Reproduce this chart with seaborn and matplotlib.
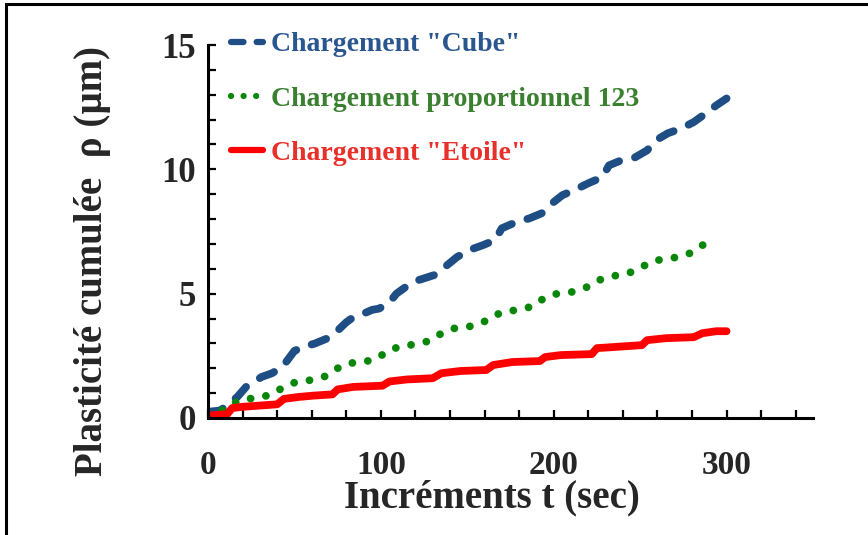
import matplotlib
matplotlib.use("Agg")
import matplotlib.pyplot as plt
from matplotlib.patches import Rectangle
from matplotlib.ticker import MultipleLocator, NullFormatter
import pandas as pd
import seaborn as sns

# Cumulated plasticity vs time increment for three loading paths
t_cube = [0, 7, 11, 17, 22, 31, 37, 43, 50, 55, 62, 69, 74, 80, 83, 90, 95, 99,
          105, 109, 116, 122, 131, 137, 144, 151, 159, 166, 170, 178, 186, 193,
          199, 205, 213, 220, 228, 232, 239, 247, 254, 259, 266, 274, 281, 288,
          294, 300]
rho_cube = [0.25, 0.3, 0.5, 0.85, 1.25, 1.65, 1.8, 2.05, 2.7, 2.85, 3.0, 3.2,
            3.45, 3.85, 4.0, 4.2, 4.35, 4.4, 4.65, 5.0, 5.35, 5.55, 5.75, 6.07,
            6.47, 6.75, 6.95, 7.15, 7.63, 7.87, 8.03, 8.23, 8.63, 8.96, 9.2,
            9.44, 9.68, 10.16, 10.36, 10.48, 10.76, 11.16, 11.45, 11.65, 11.9,
            12.25, 12.57, 12.85]

t_prop = [0, 8, 14, 20, 29, 37, 44, 51, 59, 67, 75, 81, 90, 98, 104, 112, 120,
          128, 135, 142, 150, 158, 165, 172, 180, 188, 195, 202, 210, 218, 226,
          233, 241, 248, 256, 263, 271, 279, 286, 294]
rho_prop = [0.05, 0.3, 0.56, 0.76, 0.8, 0.96, 1.25, 1.45, 1.52, 1.65, 2.0, 2.2,
            2.25, 2.4, 2.7, 2.9, 2.96, 3.1, 3.4, 3.6, 3.66, 3.8, 4.1, 4.3, 4.34,
            4.5, 4.85, 5.0, 5.06, 5.22, 5.54, 5.7, 5.77, 5.95, 6.27, 6.39, 6.46,
            6.63, 6.95, 7.07]

t_etoile = [0, 11, 14, 20, 40, 44, 53, 61, 72, 75, 84, 101, 105, 115, 130, 135,
            146, 161, 165, 176, 192, 195, 204, 222, 225, 234, 251, 254, 265, 281,
            286, 294, 300]
rho_etoile = [0.1, 0.15, 0.4, 0.45, 0.55, 0.77, 0.85, 0.9, 0.95, 1.15, 1.25,
              1.3, 1.47, 1.55, 1.6, 1.8, 1.89, 1.93, 2.13, 2.25, 2.29, 2.45,
              2.53, 2.57, 2.81, 2.85, 2.93, 3.13, 3.21, 3.25, 3.41, 3.49, 3.49]

labels = ['Chargement "Cube"', 'Chargement proportionnel 123',
          'Chargement "Etoile"']
line_colors = ["#1f4e85", "#0a870a", "#ff0000"]
text_colors = ["#2a5690", "#3a8030", "#e8302a"]
x_ticks = [0, 100, 200, 300]
y_ticks = [0, 5, 10, 15]

sns.set_theme(style="white")
plt.rcParams["font.family"] = ["Liberation Serif", "DejaVu Serif"]
plt.rcParams["font.weight"] = "bold"

fig = plt.figure(figsize=(8.68, 5.35), dpi=100)
ax = fig.add_axes([208 / 868, 1 - 418 / 535, 605 / 868, 373 / 535])

series = [(t_cube, rho_cube), (t_prop, rho_prop), (t_etoile, rho_etoile)]
styles = [(0, (2.0, 2.1)), (0, (0.01, 2.0)), "-"]
for (tx, ry), lab, col, ls in zip(series, labels, line_colors, styles):
    df = pd.DataFrame({"t": tx, "rho": ry})
    sns.lineplot(data=df, x="t", y="rho", ax=ax, color=col, linestyle=ls,
                 lw=5.6, label=lab, solid_capstyle="round",
                 dash_capstyle="round", solid_joinstyle="round")

ax.set_xlim(0, 350)
ax.set_ylim(0, 15)
ax.set_xticks(x_ticks)
ax.set_yticks(y_ticks)
ax.xaxis.set_minor_locator(MultipleLocator(20))
ax.yaxis.set_minor_locator(MultipleLocator(1))
ax.xaxis.set_minor_formatter(NullFormatter())
ax.yaxis.set_minor_formatter(NullFormatter())
ax.tick_params(axis="both", which="both", direction="in", length=6,
               width=1.6, color="black", bottom=True, left=True)
ax.tick_params(axis="x", which="major", pad=23, labelsize=24)
ax.tick_params(axis="y", which="major", pad=9, labelsize=25)
for lab in ax.get_xticklabels() + ax.get_yticklabels():
    lab.set_fontweight("bold")

sns.despine(ax=ax)
for side in ("left", "bottom"):
    ax.spines[side].set_linewidth(2.2)
    ax.spines[side].set_color("black")

ax.set_xlabel("Incréments t (sec)", fontsize=28, fontweight="bold")
ax.set_ylabel("Plasticité cumulée  ρ (µm)", fontsize=28, fontweight="bold")
ax.xaxis.set_label_coords(0.469, -0.165)
ax.yaxis.set_label_coords(-0.16, 0.42)

leg = ax.legend(loc="upper left", bbox_to_anchor=(0.038, 1.035),
                borderaxespad=0, borderpad=0, frameon=False,
                prop={"family": "Liberation Serif", "weight": "bold",
                      "size": 20},
                handlelength=1.15, handletextpad=0.3, labelspacing=1.04,
                labelcolor=text_colors)
for h in leg.get_lines():
    h.set_linewidth(4.5)

# Outer frame around the figure
fig.patches.append(Rectangle((6 / 868, -0.2), 1.3, 1.2 - 4 / 535,
                             transform=fig.transFigure, fill=False,
                             edgecolor="black", linewidth=2.2))

fig.savefig("out.png", dpi=100)
